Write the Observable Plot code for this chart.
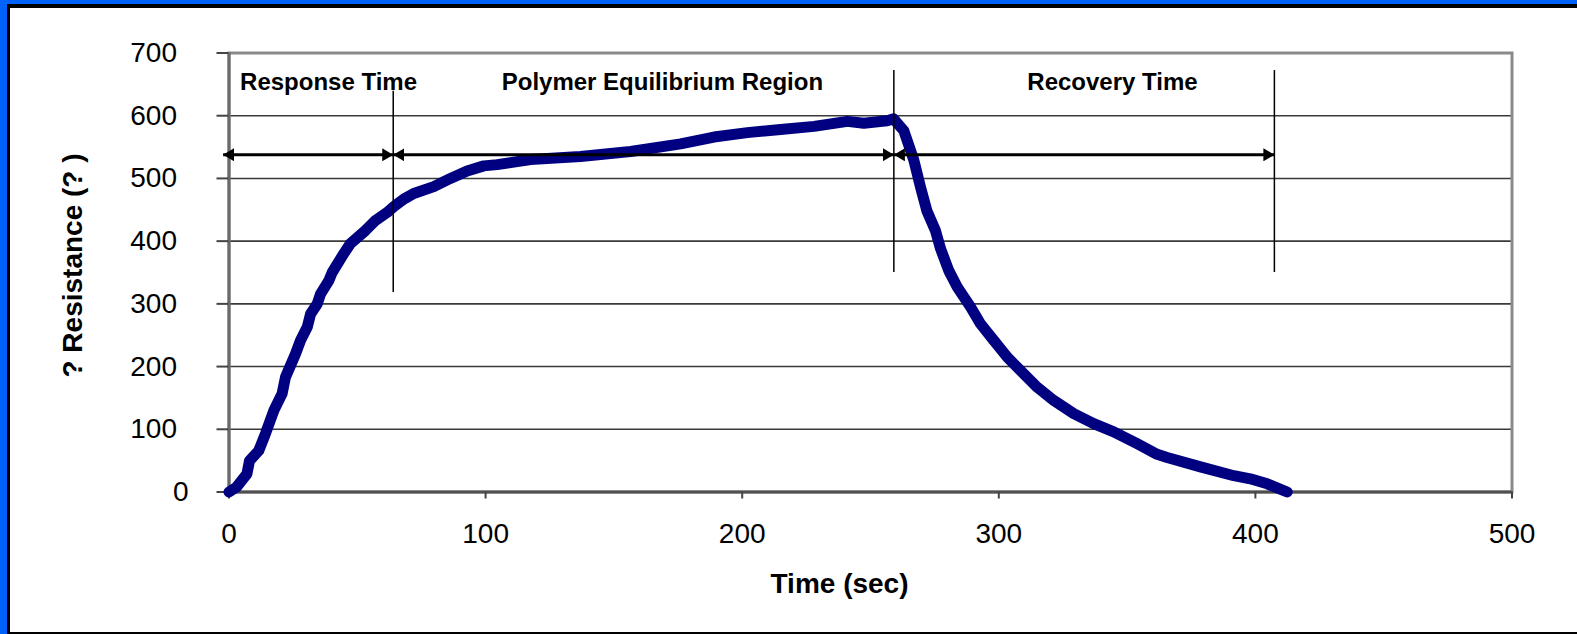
<!DOCTYPE html>
<html>
<head>
<meta charset="utf-8">
<script src="https://cdn.jsdelivr.net/npm/d3@7"></script>
<script src="https://cdn.jsdelivr.net/npm/@observablehq/plot@0.6"></script>
<style>
  html, body { margin: 0; padding: 0; }
  body { width: 1577px; height: 634px; background: #0062f8; position: relative; overflow: hidden; }
  #frame { position: absolute; left: 7px; top: 4px; width: 1570px; height: 630px; box-sizing: border-box;
           background: #fff; border-left: 3px solid #000; border-top: 4px solid #000; border-bottom: 2px solid #000; }
  #chart { position: absolute; left: 0; top: 0; }
  #chart svg { background: transparent; }
</style>
</head>
<body>
<div id="frame"></div>
<div id="chart"></div>
<script>
// Data
const timeSec = [0, 3, 7, 8, 11.6, 14.2, 17.5, 20.7, 22, 25.9, 27.9, 30.5, 31.8, 34.4, 35.7, 38.9, 40.2, 44.7, 47.3, 53.2, 57.1, 61.7, 64.2, 68.1, 72, 79.8, 86.3, 92.8, 99.3, 104.5, 117.5, 137, 156.5, 176, 189, 202, 215, 228, 241, 247.4, 256.5, 259, 263, 266.9, 269.5, 272, 275.3, 277.3, 280.5, 283.8, 289, 292.9, 298, 303.3, 308.4, 315, 321.4, 329.2, 337, 344.8, 353.9, 361.7, 365.6, 378.6, 391.6, 398, 404.6, 412.4];
const resistance = [0, 8, 29, 50, 66, 93, 130, 157, 183, 220, 242, 263, 284, 300, 316, 337, 350, 380, 396, 417, 433, 446, 455, 467, 476, 487, 500, 512, 520, 522, 530, 535, 543, 555, 566, 573, 578, 583, 591, 588, 592, 595, 576, 529, 486, 448, 417, 388, 353, 327, 295, 268, 242, 215, 194, 167, 146, 125, 109, 96, 77, 60, 55, 40, 26, 21, 13, 0];

const xTicks = [0, 100, 200, 300, 400, 500];
const yTicks = [100, 200, 300, 400, 500, 600, 700];
const yZeroTick = [0];
const gridValues = [100, 200, 300, 400, 500, 600];

// Region annotations
const regionLabels = ["Response Time", "Polymer Equilibrium Region", "Recovery Time"];
const regionLabelX = [38.8, 168.9, 344.3];
const regionLabelY = [653, 653, 653];
const dividerX = [64, 259.1, 407.4];
const dividerTop = [639, 672, 672];
const dividerBottom = [318, 350, 350];
const arrowStart = [-2.3, 64, 259.1];
const arrowEnd = [64, 259.1, 407.4];
const arrowY = [537.7, 537.7, 537.7];

const series = timeSec.map((t, i) => ({t, r: resistance[i]}));
const labels = regionLabels.map((s, i) => ({s, x: regionLabelX[i], y: regionLabelY[i]}));
const dividers = dividerX.map((x, i) => ({x, y1: dividerBottom[i], y2: dividerTop[i]}));
const arrows = arrowStart.map((x1, i) => ({x1, x2: arrowEnd[i], y: arrowY[i]}));

const font = "'Liberation Sans', Arial, Helvetica, sans-serif";

const chart = Plot.plot({
  width: 1577,
  height: 634,
  marginLeft: 228.5,
  marginRight: 65.5,
  marginTop: 52.5,
  marginBottom: 142.5,
  style: {fontFamily: font, color: "#000", background: "transparent", overflow: "visible"},
  x: {domain: [0, 500]},
  y: {domain: [0, 700]},
  marks: [
    Plot.ruleY(gridValues, {stroke: "#3a3a3a", strokeWidth: 1.6}),
    Plot.frame({stroke: "#8a8a8a", strokeWidth: 3}),
    Plot.ruleX([0], {stroke: "#6a6a6a", strokeWidth: 3}),
    Plot.ruleY([0], {stroke: "#505050", strokeWidth: 3}),
    Plot.axisY({ticks: yTicks, tickSize: 12, tickPadding: 40, fontSize: 28, label: null, stroke: "#444", strokeWidth: 2, tickFormat: d => String(d)}),
    Plot.axisY({ticks: yZeroTick, tickSize: 12, tickPadding: 28.5, fontSize: 28, label: null, stroke: "#444", strokeWidth: 2, tickFormat: d => String(d)}),
    Plot.axisX({ticks: xTicks, tickSize: 7, tickPadding: 24.5, fontSize: 28, label: null, stroke: "#444", strokeWidth: 2, tickFormat: d => String(d)}),
    Plot.line(series, {x: "t", y: "r", stroke: "#000080", strokeWidth: 11, strokeLinecap: "round", strokeLinejoin: "round"}),
    Plot.ruleX(dividers, {x: "x", y1: "y1", y2: "y2", stroke: "#000", strokeWidth: 1.5}),
    Plot.link(arrows, {x1: "x1", x2: "x2", y1: "y", y2: "y", stroke: "#000", strokeWidth: 3, className: "rangearrow"}),
    Plot.text(labels, {x: "x", y: "y", text: "s", fontSize: 24, fontWeight: "bold", fill: "#000"}),
    Plot.text(["Time (sec)"], {frameAnchor: "bottom", textAnchor: "middle", lineAnchor: "middle", dx: -31, dy: 92, fontSize: 28, fontWeight: "bold", fill: "#000"}),
    Plot.text(["? Resistance (? )"], {frameAnchor: "left", textAnchor: "middle", lineAnchor: "middle", dx: -155.5, dy: -7, rotate: -90, fontSize: 28, fontWeight: "bold", fill: "#000"})
  ]
});

// Filled triangular arrowheads for the range arrows
const svg = d3.select(chart);
const defs = svg.insert("defs", ":first-child");
defs.append("marker")
  .attr("id", "tri-head")
  .attr("viewBox", "0 0 10 10")
  .attr("refX", 10).attr("refY", 5)
  .attr("markerUnits", "userSpaceOnUse")
  .attr("markerWidth", 11).attr("markerHeight", 13)
  .attr("preserveAspectRatio", "none")
  .attr("orient", "auto-start-reverse")
  .append("path").attr("d", "M0,0L10,5L0,10Z").attr("fill", "#000");
svg.selectAll(".rangearrow path")
  .attr("marker-start", "url(#tri-head)")
  .attr("marker-end", "url(#tri-head)");

document.getElementById("chart").appendChild(chart);
</script>
</body>
</html>
